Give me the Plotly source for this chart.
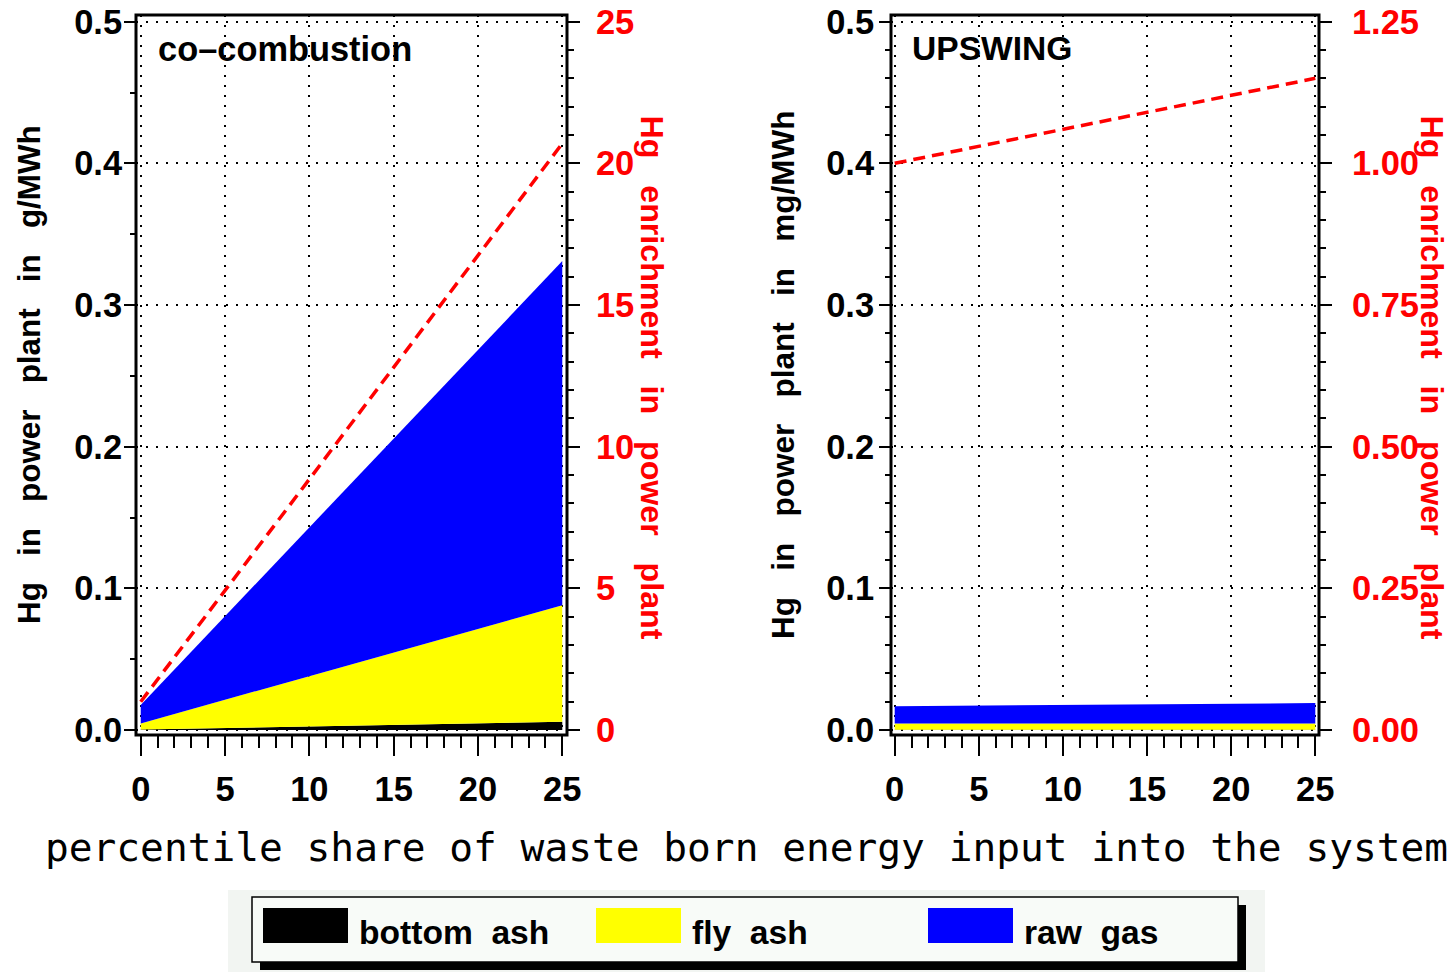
import plotly.graph_objects as go

# Share of waste-born energy input (%)
share = [0, 5, 10, 15, 20, 25]

# co-combustion: Hg distribution in g/MWh (stacked components)
cc_bottom_ash = [0.0003, 0.0015, 0.0026, 0.0037, 0.0048, 0.0059]
cc_fly_ash = [0.0044, 0.0199, 0.0354, 0.0510, 0.0666, 0.0821]
cc_raw_gas = [0.0130, 0.0590, 0.1050, 0.1510, 0.1970, 0.2430]
cc_enrichment = [1.00, 4.90, 8.85, 12.80, 16.75, 20.70]

# UPSWING: Hg distribution in mg/MWh (stacked components)
up_bottom_ash = [0.0002, 0.0002, 0.0002, 0.0002, 0.0002, 0.0002]
up_fly_ash = [0.0045, 0.0045, 0.0045, 0.0045, 0.0045, 0.0045]
up_raw_gas = [0.0121, 0.0125, 0.0130, 0.0134, 0.0139, 0.0143]
up_enrichment = [1.00, 1.03, 1.06, 1.09, 1.12, 1.15]

component_names = ["bottom ash", "fly ash", "raw gas"]
component_colors = ["#000000", "#ffff00", "#0000ff"]

W, H = 1453, 972
FONT = "Liberation Sans, Arial, sans-serif"
RED = "#ff0000"


def px(x):
    return x / W


def py(y):
    return 1 - y / H


fig = go.Figure()

for comps, xa, ya, grp in [
    ((cc_bottom_ash, cc_fly_ash, cc_raw_gas), "x", "y", "cc"),
    ((up_bottom_ash, up_fly_ash, up_raw_gas), "x2", "y3", "up"),
]:
    for vals, name, col in zip(comps, component_names, component_colors):
        fig.add_trace(go.Scatter(
            x=share, y=vals, name=name, xaxis=xa, yaxis=ya,
            stackgroup=grp, mode="lines", line=dict(width=0, color=col),
            fillcolor=col, hoverinfo="x+y+name",
        ))

fig.add_trace(go.Scatter(
    x=share, y=cc_enrichment, xaxis="x", yaxis="y2", mode="lines",
    line=dict(color=RED, width=3.5, dash="12px,7px"), name="enrichment",
))
fig.add_trace(go.Scatter(
    x=share, y=up_enrichment, xaxis="x2", yaxis="y4", mode="lines",
    line=dict(color=RED, width=3.5, dash="12px,7px"), name="enrichment",
))

TICK_SIZE = 34.5
tickfont_black = dict(family=FONT, size=TICK_SIZE, color="black", weight="bold")
tickfont_red = dict(family=FONT, size=TICK_SIZE, color=RED, weight="bold")
grid = dict(showgrid=True, gridcolor="black", gridwidth=1.5, griddash="2px,8px")

ydom = [py(735), py(15)]
yrange = [-0.0035, 0.5047]


def xaxis_cfg(dom, rng, anchor):
    return dict(
        domain=dom, range=rng, anchor=anchor, tick0=0, dtick=5,
        ticks="outside", ticklen=20, tickwidth=2, tickcolor="black",
        tickfont=tickfont_black, ticklabelstandoff=4, zeroline=False,
        showline=False, automargin=False, ticklabeloverflow="allow",
        minor=dict(dtick=1, ticks="outside", ticklen=12, tickwidth=2,
                   tickcolor="black", showgrid=False),
        **grid,
    )


def yleft_cfg(anchor, minor_dtick, standoff):
    return dict(
        domain=ydom, range=yrange, anchor=anchor, tick0=0, dtick=0.1,
        tickformat=".1f", ticks="outside", ticklen=11, tickwidth=2,
        tickcolor="black", tickfont=tickfont_black, ticklabelstandoff=standoff,
        zeroline=False, showline=False, automargin=False,
        ticklabeloverflow="allow",
        minor=dict(dtick=minor_dtick, ticks="outside", ticklen=5, tickwidth=2,
                   tickcolor="black", showgrid=False),
        **grid,
    )


def yright_cfg(overlay, anchor, scale, dtick, minor_dtick, fmt, standoff):
    return dict(
        overlaying=overlay, anchor=anchor, side="right",
        range=[yrange[0] * scale, yrange[1] * scale], tick0=0, dtick=dtick,
        tickformat=fmt, ticks="outside", ticklen=12, tickwidth=2,
        tickcolor="black", tickfont=tickfont_red, ticklabelstandoff=standoff,
        zeroline=False, showline=False, showgrid=False, automargin=False,
        ticklabeloverflow="allow",
        minor=dict(dtick=minor_dtick, ticks="outside", ticklen=6, tickwidth=2,
                   tickcolor="black", showgrid=False),
    )


fig.update_layout(
    width=W, height=H,
    margin=dict(l=0, r=0, t=0, b=0, pad=0, autoexpand=False),
    paper_bgcolor="white", plot_bgcolor="white", showlegend=False,
    xaxis=xaxis_cfg([px(136), px(567)], [-0.28, 25.28], "y"),
    xaxis2=xaxis_cfg([px(891), px(1319)], [-0.22, 25.22], "y3"),
    yaxis=yleft_cfg("x", 0.05, -5),
    yaxis2=yright_cfg("y", "x", 50, 5, 1, "d", 9),
    yaxis3=yleft_cfg("x2", 0.02, -2),
    yaxis4=yright_cfg("y3", "x2", 2.5, 0.25, 0.05, ".2f", 13),
)

shapes = []
# panel frames
for xr, yr in [("x domain", "y domain"), ("x2 domain", "y3 domain")]:
    shapes.append(dict(type="rect", xref=xr, yref=yr, x0=0, x1=1, y0=0, y1=1,
                       line=dict(color="black", width=3), layer="above"))

# legend panel
shapes.append(dict(type="rect", xref="paper", yref="paper",
                   x0=px(228), x1=px(1265), y0=py(972), y1=py(890),
                   fillcolor="#f2f5f2", line=dict(width=0), layer="above"))
shapes.append(dict(type="rect", xref="paper", yref="paper",
                   x0=px(260), x1=px(1246), y0=py(970), y1=py(905),
                   fillcolor="black", line=dict(width=0), layer="above"))
shapes.append(dict(type="rect", xref="paper", yref="paper",
                   x0=px(252), x1=px(1238), y0=py(962), y1=py(897),
                   fillcolor="#f8fbf8", line=dict(color="black", width=1.5),
                   layer="above"))

annotations = []
legend_x = [263, 596, 928]
for lx, name, col in zip(legend_x, component_names, component_colors):
    shapes.append(dict(type="rect", xref="paper", yref="paper",
                       x0=px(lx), x1=px(lx + 85), y0=py(943), y1=py(908),
                       fillcolor=col, line=dict(width=0), layer="above"))
    annotations.append(dict(
        xref="paper", yref="paper", x=px(lx + 94), y=py(932),
        xanchor="left", yanchor="middle", showarrow=False,
        text=name.replace(" ", "\u00a0 "),
        font=dict(family=FONT, size=33.6, color="black", weight="bold"),
    ))

# panel labels
annotations.append(dict(
    xref="paper", yref="paper", x=px(156), y=py(49), xanchor="left",
    yanchor="middle", showarrow=False, text="co\u2013combustion",
    font=dict(family=FONT, size=34.4, color="black", weight="bold")))
annotations.append(dict(
    xref="paper", yref="paper", x=px(910), y=py(49), xanchor="left",
    yanchor="middle", showarrow=False, text="UPSWING",
    font=dict(family=FONT, size=33.6, color="black", weight="bold")))

gap = " \u00a0\u00a0"
# axis titles
for xc, yc, txt, col, ang, size in [
    (30, 375, gap.join(["Hg", "in", "power", "plant", "in", "g/MWh"]), "black", -90, 31.4),
    (783, 375, gap.join(["Hg", "in", "power", "plant", "in", "mg/MWh"]), "black", -90, 31.5),
    (652, 377.5, gap.join(["Hg", "enrichment", "in", "power", "plant"]), RED, 90, 32.2),
    (1432, 377.5, gap.join(["Hg", "enrichment", "in", "power", "plant"]), RED, 90, 32.2),
]:
    annotations.append(dict(
        xref="paper", yref="paper", x=px(xc), y=py(yc), xanchor="center",
        yanchor="middle", showarrow=False, text=txt, textangle=ang,
        font=dict(family=FONT, size=size, color=col, weight="bold")))

annotations.append(dict(
    xref="paper", yref="paper", x=px(746), y=py(847), xanchor="center",
    yanchor="middle", showarrow=False,
    text="percentile share of waste born energy input into the system",
    font=dict(family="DejaVu Sans Mono", size=39.5, color="black")))

fig.update_layout(shapes=shapes, annotations=annotations)

fig.write_html("out.html")
